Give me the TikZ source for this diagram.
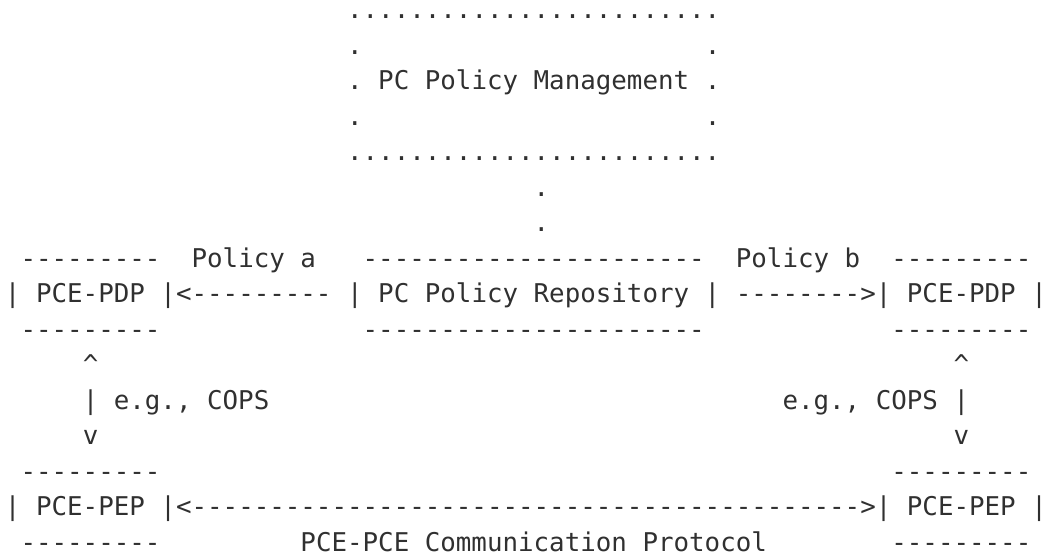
\documentclass[tikz,border=0pt]{standalone}
\usepackage{fontspec}
\setmonofont{DejaVu Sans Mono}
\definecolor{ink}{RGB}{48,48,48}
\tikzset{
  txt/.style={anchor=base west, inner sep=0pt, outer sep=0pt,
    font=\ttfamily\fontsize{25.83pt}{35.5pt}\selectfont, text=ink}
}
\begin{document}
\begin{tikzpicture}[x=15.55pt,y=-35.5pt]
\useasboundingbox (0pt,0pt) rectangle (1050pt,-558pt);
\begin{scope}[shift={(5pt,-18.5pt)}]
% PC Policy Management (dotted box)
\node[txt] (mgTop) at (22,0) {..........{}..........{}....};
\node[txt] (mgL1) at (22,1) {.};
\node[txt] (mgR1) at (45,1) {.};
\node[txt] (mgL2) at (22,2) {.};
\node[txt] (mgmt) at (24,2) {PC Policy Management};
\node[txt] (mgR2) at (45,2) {.};
\node[txt] (mgL3) at (22,3) {.};
\node[txt] (mgR3) at (45,3) {.};
\node[txt] (mgBot) at (22,4) {..........{}..........{}....};
\node[txt] (link1) at (34,5) {.};
\node[txt] (link2) at (34,6) {.};
% row with tops of boxes and policy labels
\node[txt] (pdpLtop) at (1,7) {---------};
\node[txt] (polA) at (12,7) {Policy a};
\node[txt] (repoTop) at (23,7) {----------{}----------{}--};
\node[txt] (polB) at (47,7) {Policy b};
\node[txt] (pdpRtop) at (57,7) {---------};
% PDP row
\node[txt] (pdpL) at (0,8) {| PCE-PDP |};
\node[txt] (arrA) at (11,8) {<---------};
\node[txt] (repo) at (22,8) {| PC Policy Repository |};
\node[txt] (arrB) at (47,8) {-------->};
\node[txt] (pdpR) at (56,8) {| PCE-PDP |};
% bottoms
\node[txt] (pdpLbot) at (1,9) {---------};
\node[txt] (repoBot) at (23,9) {----------{}----------{}--};
\node[txt] (pdpRbot) at (57,9) {---------};
% vertical links
\node[txt] (upL) at (5,10) {\textasciicircum};
\node[txt] (upR) at (61,10) {\textasciicircum};
\node[txt] (barL) at (5,11) {|};
\node[txt] (copsL) at (7,11) {e.g., COPS};
\node[txt] (copsR) at (50,11) {e.g., COPS};
\node[txt] (barR) at (61,11) {|};
\node[txt] (dnL) at (5,12) {v};
\node[txt] (dnR) at (61,12) {v};
% PEP row
\node[txt] (pepLtop) at (1,13) {---------};
\node[txt] (pepRtop) at (57,13) {---------};
\node[txt] (pepL) at (0,14) {| PCE-PEP |};
\node[txt] (pcepHeadL) at (11,14) {<};
\node[txt] (pcep) at (12,14) {----------{}----------{}----------{}----------{}---};
\node[txt] (pcepHeadR) at (55,14) {>};
\node[txt] (pepR) at (56,14) {| PCE-PEP |};
\node[txt] (pepLbot) at (1,15) {---------};
\node[txt] (proto) at (19,15) {PCE-PCE Communication Protocol};
\node[txt] (pepRbot) at (57,15) {---------};
\end{scope}
\end{tikzpicture}
\end{document}
